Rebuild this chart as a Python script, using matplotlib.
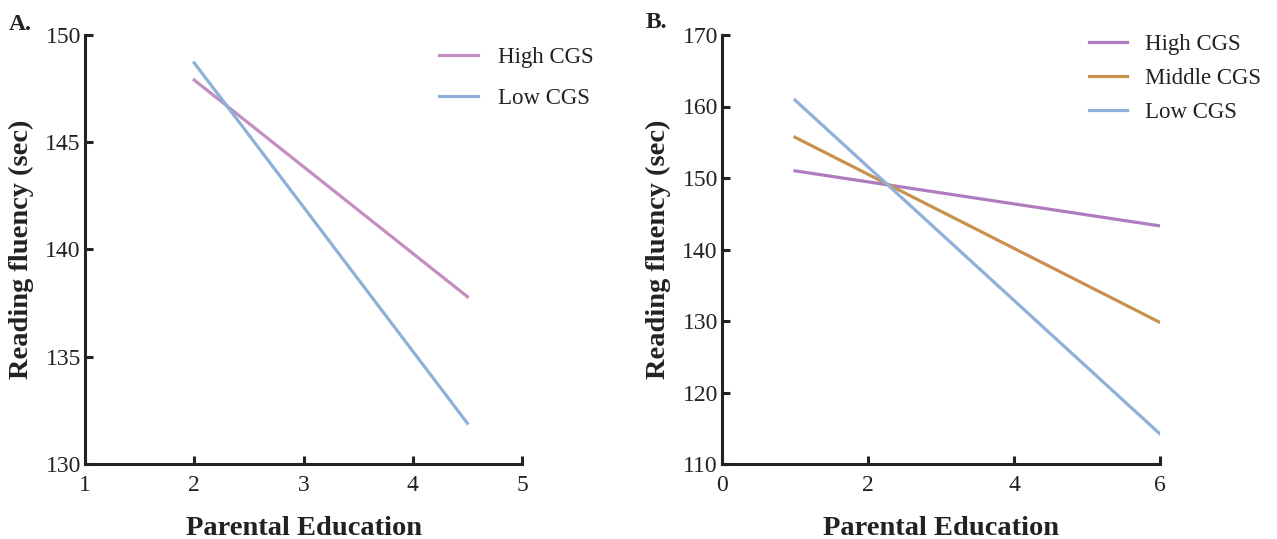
import numpy as np
import matplotlib
matplotlib.use("Agg")
import matplotlib.pyplot as plt

# Panel A: simple slopes at two CGS levels
a_x = [2.0, 4.5]
a_high = [147.9, 137.8]
a_low = [148.7, 131.9]

# Panel B: simple slopes at three CGS levels
b_x = [1.0, 6.0]
b_high = [151.0, 143.3]
b_middle = [155.7, 129.8]
b_low = [160.9, 114.2]

a_xticks = [1, 2, 3, 4, 5]
a_yticks = [130, 135, 140, 145, 150]
b_xticks = [0, 2, 4, 6]
b_yticks = [110, 120, 130, 140, 150, 160, 170]

plt.rcParams["font.family"] = ["Liberation Serif", "DejaVu Serif"]

fig = plt.figure(figsize=(12.77, 5.39), dpi=100)
ax_a = fig.add_axes([85 / 1277, 1 - 464 / 539, (522 - 85) / 1277, (464 - 35) / 539])
ax_b = fig.add_axes([722 / 1277, 1 - 464 / 539, (1160 - 722) / 1277, (464 - 35) / 539])

lw = 2.3
ax_a.plot(a_x, a_high, color="#c48fc0", lw=lw, label="High CGS")
ax_a.plot(a_x, a_low, color="#8fb0d8", lw=lw, label="Low CGS")

ax_b.plot(b_x, b_high, color="#b07cc0", lw=lw, label="High CGS")
ax_b.plot(b_x, b_middle, color="#c8914f", lw=lw, label="Middle CGS")
ax_b.plot(b_x, b_low, color="#8fb0d8", lw=lw, label="Low CGS")

for ax, xt, yt in [(ax_a, a_xticks, a_yticks), (ax_b, b_xticks, b_yticks)]:
    ax.set_xlim(xt[0], xt[-1])
    ax.set_ylim(yt[0], yt[-1])
    ax.set_xticks(xt)
    ax.set_yticks(yt)
    for s in ["top", "right"]:
        ax.spines[s].set_visible(False)
    for s in ["left", "bottom"]:
        ax.spines[s].set_linewidth(2.2)
        ax.spines[s].set_color("#222222")
    ax.tick_params(direction="in", length=6, width=2.2, color="#222222",
                   labelsize=17, labelcolor="#222222")
    ax.tick_params(axis="x", pad=8)
    ax.tick_params(axis="y", pad=3)
    ax.set_xlabel("Parental Education", fontsize=20.5, fontweight="bold",
                  labelpad=14, color="#222222")
    ax.set_ylabel("Reading fluency (sec)", fontsize=20.5, fontweight="bold",
                  labelpad=8, color="#222222")
    ax.patch.set_visible(False)

ax_a.legend(loc="upper left", bbox_to_anchor=(0.764, 1.02), frameon=False,
            fontsize=16.5, handlelength=1.68, handletextpad=0.88, labelspacing=0.87,
            labelcolor="#222222")
ax_b.legend(loc="upper left", bbox_to_anchor=(0.79, 1.05), frameon=False,
            fontsize=16.5, handlelength=1.68, handletextpad=0.8, labelspacing=0.56,
            labelcolor="#222222")

fig.text(9 / 1277, 1 - 25 / 539, "A.", fontsize=17, fontweight="bold", va="center",
         color="#222222")
fig.text(646 / 1277, 1 - 22 / 539, "B.", fontsize=17, fontweight="bold", va="center",
         color="#222222")

fig.savefig("out.png", dpi=100)
